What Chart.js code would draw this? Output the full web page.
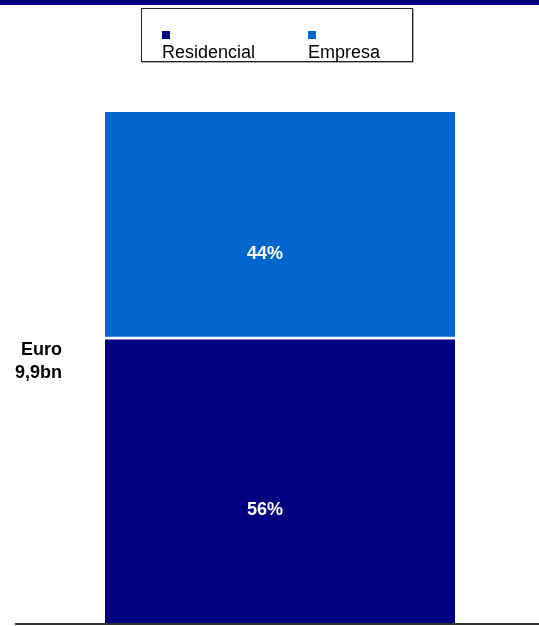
<!DOCTYPE html>
<html>
<head>
<meta charset="utf-8">
<script src="https://cdn.jsdelivr.net/npm/chart.js@4"></script>
<style>
  body { margin: 0; background: #fff; }
  canvas { display: block; }
</style>
</head>
<body>
<canvas id="share-chart" width="539" height="626"></canvas>
<script>
// =====================================================
//
// Data
//
// =====================================================

const categories = ["Euro 9,9bn"];
const categoryLines = [["Euro", "9,9bn"]];
const seriesNames = ["Residencial", "Empresa"];
const residencialValues = [56];
const empresaValues = [44];
const seriesColors = ["#000080", "#0066CC"];

const FONT = "'Liberation Sans', Arial, sans-serif";

// =====================================================
//
// Plugins: top band, legend box, labels, baseline
//
// =====================================================

const decorations = {
  id: "decorations",
  beforeDraw(chart) {
    const ctx = chart.ctx;
    ctx.save();
    ctx.fillStyle = "#000080";
    ctx.fillRect(0, 0, chart.width, 5);
    ctx.restore();
  },
  afterDraw(chart) {
    const ctx = chart.ctx;
    const area = chart.chartArea;
    ctx.save();

    // legend box (with a faint shadow on bottom/right)
    ctx.strokeStyle = "#aaa";
    ctx.lineWidth = 1;
    ctx.beginPath();
    ctx.moveTo(142, 62.5);
    ctx.lineTo(413.5, 62.5);
    ctx.lineTo(413.5, 9);
    ctx.stroke();
    ctx.strokeStyle = "#222";
    ctx.strokeRect(141.5, 8.5, 271, 53);
    ctx.font = "18px " + FONT;
    ctx.textAlign = "left";
    ctx.textBaseline = "alphabetic";
    const legendX = [162, 308];
    chart.data.datasets.forEach((ds, i) => {
      ctx.fillStyle = ds.backgroundColor;
      ctx.fillRect(legendX[i], 31, 8, 8);
      ctx.fillStyle = "#000";
      ctx.fillText(ds.label, legendX[i], 58);
    });

    // value labels inside segments
    ctx.font = "bold 18px " + FONT;
    ctx.fillStyle = "#fff";
    ctx.textAlign = "center";
    ctx.textBaseline = "middle";
    chart.data.datasets.forEach((ds, i) => {
      chart.getDatasetMeta(i).data.forEach((bar, j) => {
        const mid = (bar.y + bar.base) / 2;
        ctx.fillText(ds.data[j] + "%", bar.x - 15, mid + 30);
      });
    });

    // category label on the left
    ctx.fillStyle = "#000";
    ctx.textAlign = "right";
    categoryLines[0].forEach((line, k) => {
      ctx.fillText(line, 62, 350 + k * 23);
    });

    // baseline
    ctx.strokeStyle = "#333";
    ctx.lineWidth = 2;
    ctx.beginPath();
    ctx.moveTo(15, area.bottom + 1);
    ctx.lineTo(chart.width, area.bottom + 1);
    ctx.stroke();

    ctx.restore();
  }
};

// =====================================================
//
// Chart
//
// =====================================================

const shareChart = new Chart(document.getElementById("share-chart").getContext("2d"), {
  type: "bar",
  data: {
    labels: categories,
    datasets: [
      {
        label: seriesNames[0],
        data: residencialValues,
        backgroundColor: seriesColors[0],
        borderColor: "#fff",
        borderWidth: { top: 3, left: 0, right: 0, bottom: 0 },
        borderSkipped: false
      },
      {
        label: seriesNames[1],
        data: empresaValues,
        backgroundColor: seriesColors[1],
        borderWidth: 0
      }
    ]
  },
  options: {
    responsive: false,
    animation: false,
    barPercentage: 1,
    categoryPercentage: 1,
    layout: { padding: { left: 105, right: 84, top: 112, bottom: 3 } },
    plugins: {
      legend: { display: false },
      tooltip: { enabled: false }
    },
    scales: {
      x: { stacked: true, display: false },
      y: { stacked: true, display: false, min: 0, max: 100 }
    }
  },
  plugins: [decorations]
});
</script>
</body>
</html>
